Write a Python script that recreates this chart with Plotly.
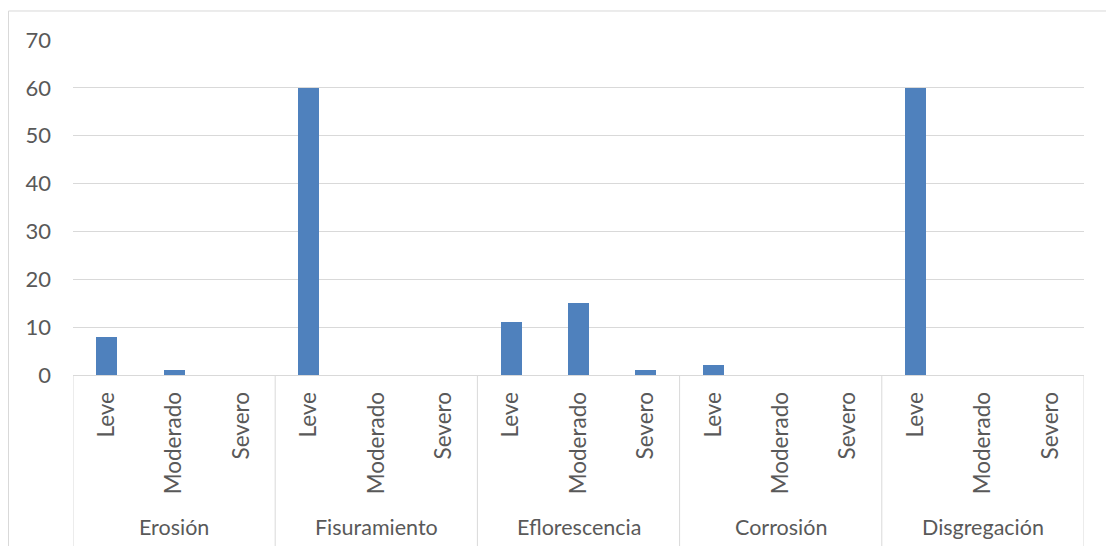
import plotly.graph_objects as go

# Damage types (outer category level) and severity levels (inner level)
groups = ["Erosión", "Fisuramiento", "Eflorescencia", "Corrosión", "Disgregación"]
levels = ["Leve", "Moderado", "Severo"]

# Counts per damage type, ordered Leve / Moderado / Severo
erosion = [8, 1, 0]
fisuramiento = [60, 0, 0]
eflorescencia = [11, 15, 1]
corrosion = [2, 0, 0]
disgregacion = [60, 0, 0]

y_ticks = [0, 10, 20, 30, 40, 50, 60, 70]

series = [erosion, fisuramiento, eflorescencia, corrosion, disgregacion]
values = [v for s in series for v in s]
labels = [lv for _ in groups for lv in levels]
xpos = list(range(len(values)))

TEXT = "#595959"
GRID = "#d9d9d9"
FONT = "Lato"

fig = go.Figure()
fig.add_trace(go.Bar(
    x=xpos, y=values,
    marker=dict(color="#4f81bd", line=dict(width=0)),
    width=0.31,
    showlegend=False,
    hoverinfo="y",
))

n_lv = len(levels)
shapes = []
annotations = []
# vertical separators between damage types below the axis
for g in range(len(groups) + 1):
    xb = g * n_lv - 0.5
    shapes.append(dict(type="line", xref="x", yref="paper",
                       x0=xb, x1=xb, y0=0, y1=-0.55,
                       line=dict(color=GRID, width=1)))
# outer-level labels
for g, name in enumerate(groups):
    annotations.append(dict(x=g * n_lv + (n_lv - 1) / 2, y=-0.453, xref="x", yref="paper",
                            text=name, showarrow=False, yanchor="middle",
                            font=dict(family=FONT, size=21.5, color=TEXT)))
# chart border
shapes.append(dict(type="rect", xref="paper", yref="paper",
                   x0=-0.0638, x1=1.05, y0=-0.7, y1=1.0866,
                   line=dict(color=GRID, width=1), fillcolor="rgba(0,0,0,0)"))

fig.update_layout(
    width=1106, height=546,
    margin=dict(l=73, r=22, t=40, b=171),
    paper_bgcolor="white", plot_bgcolor="white",
    font=dict(family=FONT, size=22, color=TEXT),
    shapes=shapes, annotations=annotations,
    xaxis=dict(
        range=[-0.5, len(values) - 0.5],
        tickmode="array", tickvals=xpos, ticktext=labels,
        tickangle=-90, ticks="", showgrid=False, zeroline=False,
        showline=True, linecolor=GRID, linewidth=1,
        ticklabelstandoff=7,
        tickfont=dict(family=FONT, size=22.5, color=TEXT),
    ),
    yaxis=dict(
        range=[0, 70], tickmode="array", tickvals=y_ticks,
        showgrid=True, gridcolor=GRID, gridwidth=1,
        zeroline=False, showline=False, ticks="",
        ticklabelstandoff=21,
        tickfont=dict(family=FONT, size=22, color=TEXT),
    ),
    bargap=0,
)

fig.write_html("out.html")
